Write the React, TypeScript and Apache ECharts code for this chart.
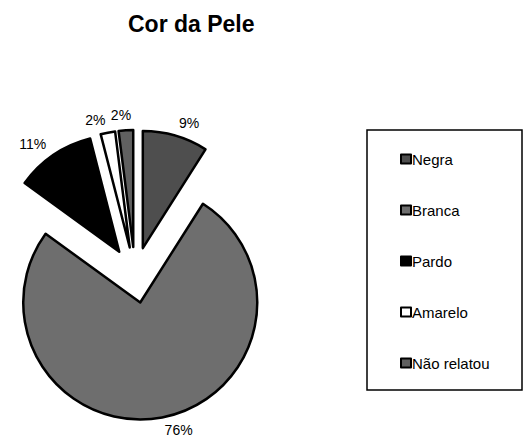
import React, { useEffect, useRef } from "react";
import * as echarts from "echarts";

const titleText = "Cor da Pele";
const categories = ["Negra", "Branca", "Pardo", "Amarelo", "Não relatou"];
const values = [9, 76, 11, 2, 2];
const sliceColors = ["#4e4e4e", "#6e6e6e", "#000000", "#ffffff", "#606060"];

export default function App() {
  const ref = useRef<HTMLDivElement>(null);
  useEffect(() => {
    if (!ref.current) return;
    const chart = echarts.init(ref.current, undefined, { renderer: "svg" });
    const font = "'Liberation Sans', Arial, sans-serif";
    chart.setOption({
      animation: false,
      backgroundColor: "#ffffff",
      title: {
        text: titleText,
        left: 128,
        top: 12,
        padding: 0,
        textStyle: { fontFamily: font, fontSize: 23, fontWeight: "bold", color: "#000" },
      },
      graphic: [
        {
          type: "rect",
          shape: { x: 367, y: 130, width: 155, height: 260 },
          style: { fill: "none", stroke: "#000", lineWidth: 1.5 },
          silent: true,
        },
      ],
      legend: {
        orient: "vertical",
        left: 400,
        top: 151,
        padding: 0,
        itemGap: 35,
        itemWidth: 10,
        itemHeight: 9,
        icon: "rect",
        selectedMode: false,
        textStyle: { fontFamily: font, fontSize: 15, color: "#000", padding: [0, 0, 0, -4], lineHeight: 16 },
        data: categories,
      },
      series: [
        {
          type: "pie",
          center: [135, 275],
          radius: 117,
          startAngle: 90,
          clockwise: true,
          selectedMode: "multiple",
          selectedOffset: 28,
          avoidLabelOverlap: false,
          labelLayout: (p: any) =>
            p.dataIndex === 4 ? { hideOverlap: false, dx: 6, dy: -2 } : { hideOverlap: false },
          emphasis: { disabled: true },
          itemStyle: { borderColor: "#000", borderWidth: 2.5 },
          label: {
            show: true,
            position: "outside",
            formatter: "{c}%",
            fontFamily: font,
            fontSize: 14,
            color: "#000",
            distanceToLabelLine: 0,
          },
          labelLine: { show: false, length: 13, length2: 0 },
          data: categories.map((name, i) => ({
            name,
            value: values[i],
            selected: true,
            itemStyle: { color: sliceColors[i] },
            select: { itemStyle: { color: sliceColors[i], borderColor: "#000", borderWidth: 2.5 } },
          })),
        },
      ],
    });
    return () => chart.dispose();
  }, []);
  return (
    <div
      ref={ref}
      style={{ position: "absolute", left: 0, top: 0, width: 525, height: 440 }}
    />
  );
}
